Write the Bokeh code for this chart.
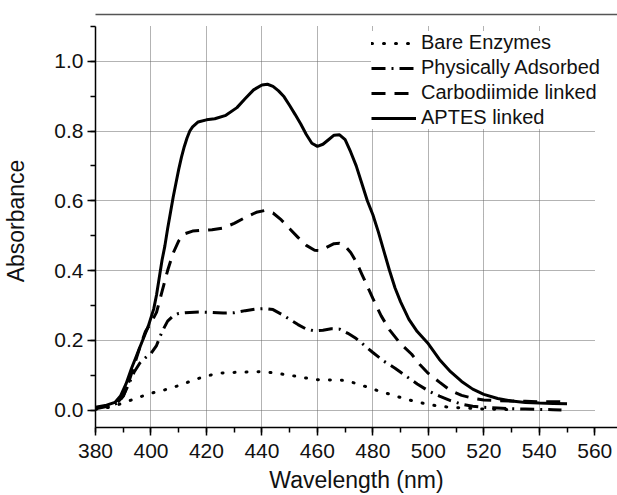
from bokeh.plotting import figure
from bokeh.models import (Range1d, LinearAxis, SingleIntervalTicker, FixedTicker,
                          PrintfTickFormatter, Legend, LegendItem)
from bokeh.embed import file_html
from bokeh.resources import INLINE

# ---- data ----
wl_bare = [380, 385, 390, 395, 400, 405, 410, 415, 420, 425, 430, 435, 440, 445, 450,
           455, 460, 465, 470, 475, 480, 485, 490, 495, 500, 505, 510, 515, 520, 525, 530]
abs_bare = [0.002, 0.008, 0.020, 0.035, 0.048, 0.058, 0.070, 0.085, 0.098, 0.106, 0.108,
            0.109, 0.110, 0.106, 0.100, 0.093, 0.087, 0.086, 0.085, 0.074, 0.060, 0.048,
            0.036, 0.025, 0.016, 0.010, 0.007, 0.005, 0.003, 0.002, 0.001]

wl_phys = [380, 384, 388, 390, 392, 394, 396, 398, 400, 402, 404, 406, 408, 410, 414, 418,
           422, 426, 430, 434, 438, 441, 444, 447, 450, 453, 456, 459, 462, 465, 468, 471,
           474, 477, 480, 484, 488, 492, 496, 500, 504, 508, 512, 516, 520, 525, 530, 535,
           540, 545, 548]
abs_phys = [0.004, 0.010, 0.020, 0.040, 0.075, 0.110, 0.135, 0.150, 0.162, 0.185, 0.225,
            0.255, 0.270, 0.277, 0.280, 0.281, 0.280, 0.278, 0.279, 0.285, 0.290, 0.291,
            0.288, 0.275, 0.260, 0.245, 0.232, 0.227, 0.229, 0.233, 0.232, 0.220, 0.205,
            0.185, 0.165, 0.140, 0.120, 0.097, 0.075, 0.055, 0.040, 0.027, 0.017, 0.011,
            0.008, 0.006, 0.004, 0.003, 0.002, 0.001, 0.000]

wl_carb = [380, 384, 388, 390, 392, 394, 396, 398, 400, 402, 404, 406, 408, 410, 412, 415,
           418, 422, 426, 430, 434, 438, 441, 444, 447, 450, 453, 456, 459, 461, 463, 466,
           468, 470, 472, 474, 476, 478, 480, 483, 486, 490, 494, 497, 500, 504, 508, 512,
           516, 520, 525, 530, 535, 540, 545, 550]
abs_carb = [0.006, 0.012, 0.022, 0.040, 0.080, 0.130, 0.180, 0.225, 0.250, 0.280, 0.340,
            0.400, 0.450, 0.485, 0.505, 0.513, 0.515, 0.517, 0.522, 0.535, 0.552, 0.567,
            0.572, 0.565, 0.545, 0.520, 0.495, 0.472, 0.458, 0.457, 0.465, 0.477, 0.478,
            0.470, 0.452, 0.425, 0.390, 0.355, 0.320, 0.270, 0.230, 0.190, 0.160, 0.130,
            0.105, 0.080, 0.056, 0.042, 0.034, 0.029, 0.027, 0.026, 0.025, 0.024, 0.024,
            0.023]

wl_aptes = [380, 384, 387, 389, 391, 393, 395, 397, 399, 400, 401, 402, 403, 404, 405, 406,
            407, 408, 409, 410, 411, 412, 413, 414, 415, 417, 420, 423, 427, 431, 434, 437,
            440, 442, 444, 446, 448, 450, 452, 454, 456, 458, 460, 462, 464, 466, 468, 470,
            472, 474, 476, 478, 480, 482, 484, 486, 488, 490, 493, 496, 500, 504, 508, 512,
            516, 520, 525, 530, 535, 540, 545, 550]
abs_aptes = [0.008, 0.014, 0.022, 0.040, 0.075, 0.120, 0.160, 0.200, 0.240, 0.265, 0.290,
             0.330, 0.380, 0.430, 0.470, 0.520, 0.565, 0.610, 0.650, 0.690, 0.725, 0.755,
             0.780, 0.800, 0.812, 0.826, 0.832, 0.835, 0.845, 0.867, 0.893, 0.918, 0.932,
             0.934, 0.928, 0.915, 0.898, 0.873, 0.847, 0.820, 0.790, 0.765, 0.756, 0.762,
             0.775, 0.788, 0.789, 0.775, 0.740, 0.700, 0.650, 0.600, 0.560, 0.510, 0.455,
             0.400, 0.350, 0.310, 0.260, 0.225, 0.190, 0.145, 0.110, 0.082, 0.060, 0.045,
             0.033, 0.026, 0.022, 0.020, 0.019, 0.018]

series_names = ["Bare Enzymes", "Physically Adsorbed", "Carbodiimide linked", "APTES linked"]

FONT = "Liberation Sans"

p = figure(width=617, height=495, output_backend="svg", toolbar_location=None,
           x_range=Range1d(380, 568.2), y_range=Range1d(-0.05, 1.134),
           min_border_left=93, min_border_right=0, min_border_top=14, min_border_bottom=68,
           x_axis_label="Wavelength (nm)", y_axis_label="Absorbance")
p.outline_line_color = None
p.background_fill_color = "white"
p.border_fill_color = "white"

# axes
p.xaxis.ticker = SingleIntervalTicker(interval=20, num_minor_ticks=2)
p.yaxis.ticker = SingleIntervalTicker(interval=0.2, num_minor_ticks=2)
p.yaxis.formatter = PrintfTickFormatter(format="%.1f")
p.yaxis.bounds = (-0.05, 1.1001)
for ax in (p.xaxis[0], p.yaxis[0]):
    ax.axis_line_color = "black"
    ax.axis_line_width = 1.5
    ax.major_tick_line_color = "black"
    ax.major_tick_line_width = 1.5
    ax.minor_tick_line_color = "black"
    ax.minor_tick_line_width = 1.5
    ax.major_tick_out = 8
    ax.major_tick_in = 0
    ax.minor_tick_out = 5
    ax.minor_tick_in = 0
    ax.major_label_text_font = FONT
    ax.major_label_text_font_size = "21px"
    ax.major_label_text_color = "#111111"
    ax.axis_label_text_font = FONT
    ax.axis_label_text_font_size = "23px"
    ax.axis_label_text_font_style = "normal"
    ax.axis_label_text_color = "#111111"
p.xaxis.major_label_standoff = 8
p.xaxis.axis_label_standoff = 6
p.yaxis.major_label_standoff = 4
p.yaxis.axis_label_standoff = 22

top = LinearAxis(ticker=FixedTicker(ticks=[], minor_ticks=[]),
                 major_label_text_font_size="0px", major_label_standoff=0,
                 major_tick_out=0, major_tick_in=0, minor_tick_out=0, minor_tick_in=0,
                 axis_line_color="#555555", axis_line_width=1.5)
p.add_layout(top, "above")

# grid
p.xgrid.ticker = SingleIntervalTicker(interval=20)
p.ygrid.ticker = SingleIntervalTicker(interval=0.2)
p.xgrid.bounds = (390, 550)
p.ygrid.bounds = (-0.01, 1.01)
try:
    p.xgrid.cross_bounds = (-0.05, 1.1)
    p.ygrid.cross_bounds = (380, 560)
except Exception:
    pass
for g in (p.xgrid[0], p.ygrid[0]):
    g.grid_line_color = "#666666"
    g.grid_line_width = 1
    g.grid_line_dash = "1 1"

# curves
r_bare = p.line(wl_bare, abs_bare, line_color="black", line_width=3,
                line_dash="1 11", line_cap="round")
r_phys = p.line(wl_phys, abs_phys, line_color="black", line_width=3,
                line_dash="14 6 2 6")
r_carb = p.line(wl_carb, abs_carb, line_color="black", line_width=3,
                line_dash="14 9")
r_aptes = p.line(wl_aptes, abs_aptes, line_color="black", line_width=3)

legend = Legend(items=[LegendItem(label=n, renderers=[r])
                       for n, r in zip(series_names, [r_bare, r_phys, r_carb, r_aptes])],
                location=(276, 298))
legend.label_text_font = FONT
legend.label_text_font_size = "20px"
legend.label_text_color = "#111111"
legend.glyph_width = 45
legend.glyph_height = 22
legend.label_height = 22
legend.spacing = 2
legend.padding = 15
legend.margin = 0
legend.label_standoff = 5
legend.border_line_color = None
legend.background_fill_color = "white"
legend.background_fill_alpha = 1.0
p.add_layout(legend)

open("out.html", "w").write(file_html(p, INLINE))
